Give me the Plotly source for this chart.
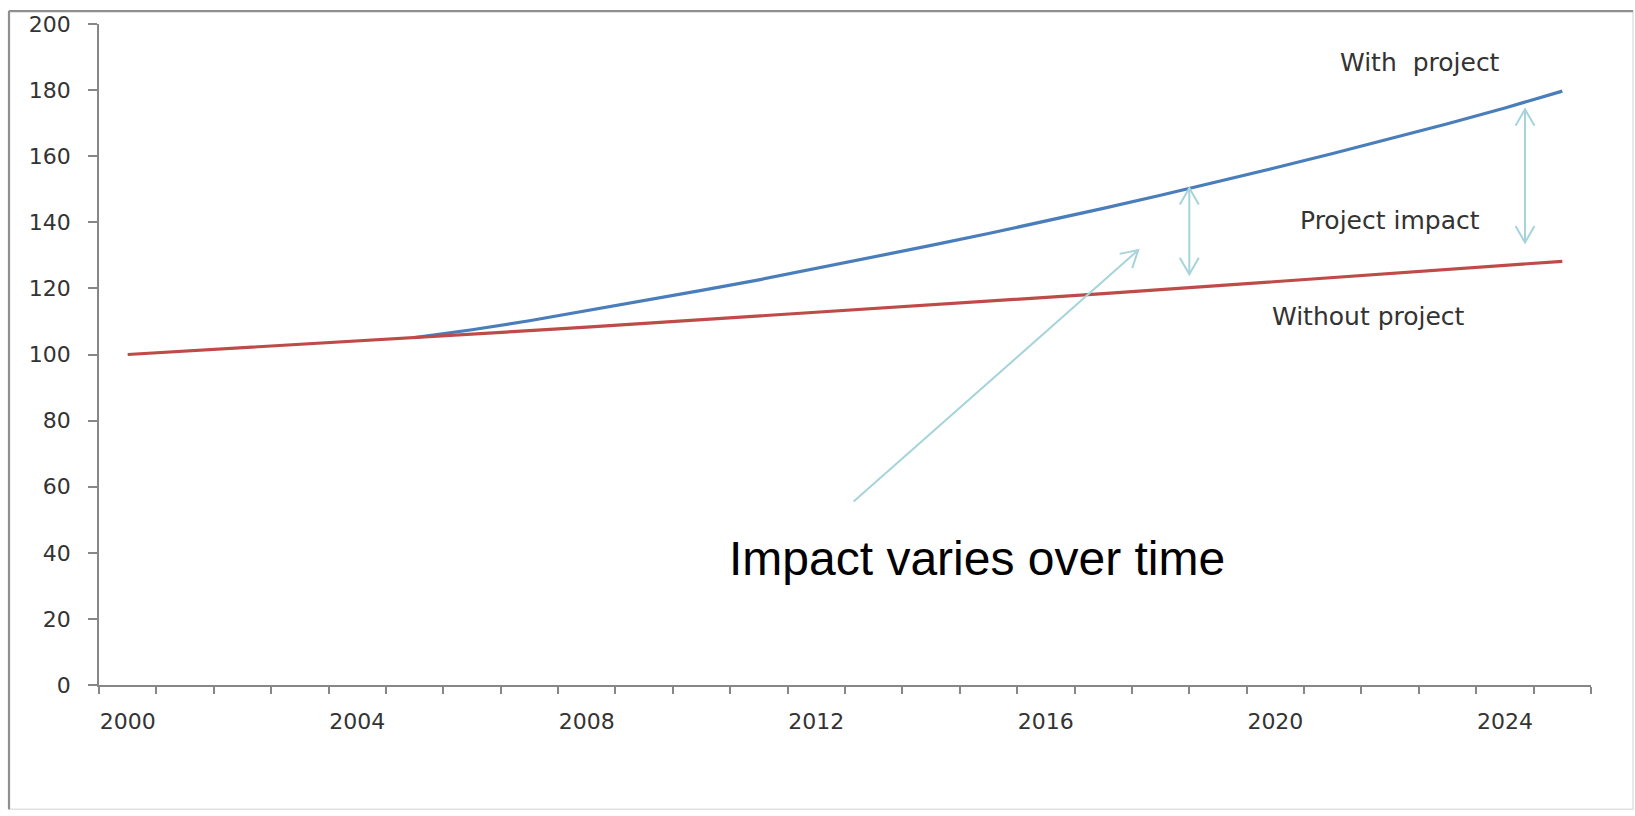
import math
import plotly.graph_objects as go

# ---- data -------------------------------------------------------------
years = list(range(2000, 2026))
without_project = [100.0, 101.0, 102.0, 103.0, 104.1, 105.1, 106.2, 107.2, 108.3, 109.4,
                   110.5, 111.6, 112.7, 113.8, 114.9, 116.1, 117.3, 118.4, 119.6, 120.8,
                   122.0, 123.2, 124.5, 125.7, 127.0, 128.2]

with_years = list(range(2005, 2026))
with_project = [105.1, 107.5, 110.2, 113.2, 116.2, 119.4, 122.6, 126.0, 129.4, 133.0, 136.6,
                140.3, 144.2, 148.2, 152.3, 156.5, 160.8, 165.2, 169.8, 174.6, 179.7]

label_years = [2000, 2004, 2008, 2012, 2016, 2020, 2024]
y_ticks = [0, 20, 40, 60, 80, 100, 120, 140, 160, 180, 200]

# impact arrows: (x, bottom, top)
impact_arrows = [(2018.5, 124.3, 150.4), (2024.35, 133.9, 174.2)]
# pointer arrow: (x_tail, y_tail, x_tip, y_tip)
pointer = (2012.65, 55.5, 2017.61, 131.6)

# ---- layout geometry --------------------------------------------------
W, H = 1635, 816
ML, MR, MT, MB = 99, 44, 20, 131
PW, PH = W - ML - MR, H - MT - MB
X_RANGE = [years[0] - 0.5, years[-1] + 0.5]
Y_RANGE = [0, 200]
px_per_x = PW / (X_RANGE[1] - X_RANGE[0])
px_per_y = PH / (Y_RANGE[1] - Y_RANGE[0])

AXIS_GREY = "#878787"
TEXT_GREY = "#333333"
ARROW = "#a6d4da"
BLUE = "#4a7ebb"
RED = "#be4b48"

fig = go.Figure()
fig.add_trace(go.Scatter(x=with_years, y=with_project, mode="lines",
                         line=dict(color=BLUE, width=3.2), name="With project",
                         hoverinfo="skip"))
fig.add_trace(go.Scatter(x=years, y=without_project, mode="lines",
                         line=dict(color=RED, width=3.2), name="Without project",
                         hoverinfo="skip"))

shapes = []


def v_head(x, y, dx, dy):
    """Open V arrow head at (x, y) in data units; (dx, dy) is the pixel direction."""
    n = math.hypot(dx, dy)
    ux, uy = dx / n, dy / n
    arm, ang = 19, math.radians(30)
    pts = []
    for s in (1, -1):
        c, sn = math.cos(s * ang), math.sin(s * ang)
        rx = ux * c - uy * sn
        ry = ux * sn + uy * c
        pts.append((-arm * rx, -arm * ry))
    path = f"M {pts[0][0]:.2f},{pts[0][1]:.2f} L 0,0 L {pts[1][0]:.2f},{pts[1][1]:.2f}"
    return dict(type="path", xref="x", yref="y", xsizemode="pixel", ysizemode="pixel",
                xanchor=x, yanchor=y, path=path, line=dict(color=ARROW, width=2))


for x, lo, hi in impact_arrows:
    shapes.append(dict(type="line", xref="x", yref="y", x0=x, x1=x, y0=lo, y1=hi,
                       line=dict(color=ARROW, width=2)))
    shapes.append(v_head(x, hi, 0, 1))
    shapes.append(v_head(x, lo, 0, -1))

xt, yt, xh, yh = pointer
shapes.append(dict(type="line", xref="x", yref="y", x0=xt, y0=yt, x1=xh, y1=yh,
                   line=dict(color=ARROW, width=2)))
shapes.append(v_head(xh, yh, (xh - xt) * px_per_x, (yh - yt) * px_per_y))


# outer chart frame
def px_to_paper_x(px):
    return (px - ML) / PW


def px_to_paper_y(py):
    return (H - MB - py) / PH


fx0, fx1 = px_to_paper_x(9), px_to_paper_x(1633)
fy0, fy1 = px_to_paper_y(810), px_to_paper_y(7)
shapes.append(dict(type="rect", xref="paper", yref="paper", x0=fx0, x1=fx1, y0=fy0, y1=fy1,
                   line=dict(color="#e2e2e2", width=1.5), layer="below"))
shapes.append(dict(type="line", xref="paper", yref="paper", x0=fx0, x1=fx0, y0=fy0, y1=fy1,
                   line=dict(color="#8f8f8f", width=2.2)))
shapes.append(dict(type="line", xref="paper", yref="paper", x0=fx0, x1=fx1, y0=fy1, y1=fy1,
                   line=dict(color="#8f8f8f", width=2.2)))

label_font = dict(family="DejaVu Sans", size=25, color=TEXT_GREY)
annotations = [
    dict(x=2022.52, y=188.5, text="With\u00a0 project", showarrow=False, font=label_font),
    dict(x=2022.0, y=140.6, text="Project impact", showarrow=False, font=label_font),
    dict(x=2021.62, y=111.5, text="Without project", showarrow=False, font=label_font),
    dict(x=2014.8, y=38.3, text="Impact varies over time", showarrow=False,
         font=dict(family="Liberation Sans", size=48, color="#000000")),
]

fig.update_layout(
    width=W, height=H,
    margin=dict(l=ML, r=MR, t=MT, b=MB, pad=0),
    paper_bgcolor="white", plot_bgcolor="white",
    showlegend=False,
    shapes=shapes,
    annotations=annotations,
    font=dict(family="DejaVu Sans", color=TEXT_GREY),
    xaxis=dict(
        range=X_RANGE, showgrid=False, zeroline=False,
        showline=True, linecolor=AXIS_GREY, linewidth=1.5,
        tickmode="array", tickvals=label_years, ticktext=[str(y) for y in label_years],
        ticks="", ticklabelstandoff=16,
        tickfont=dict(family="DejaVu Sans", size=22, color=TEXT_GREY),
        minor=dict(tickmode="array", tickvals=[y - 0.5 for y in years] + [years[-1] + 0.5],
                   ticks="outside", ticklen=7, tickcolor=AXIS_GREY, tickwidth=1.5,
                   showgrid=False),
    ),
    yaxis=dict(
        range=Y_RANGE, showgrid=False, zeroline=False,
        showline=True, linecolor=AXIS_GREY, linewidth=1.5,
        tickmode="array", tickvals=y_ticks,
        ticks="outside", ticklen=9, tickcolor=AXIS_GREY, tickwidth=1.5,
        ticklabelstandoff=13,
        tickfont=dict(family="DejaVu Sans", size=22, color=TEXT_GREY),
    ),
)

fig.write_html("out.html")
